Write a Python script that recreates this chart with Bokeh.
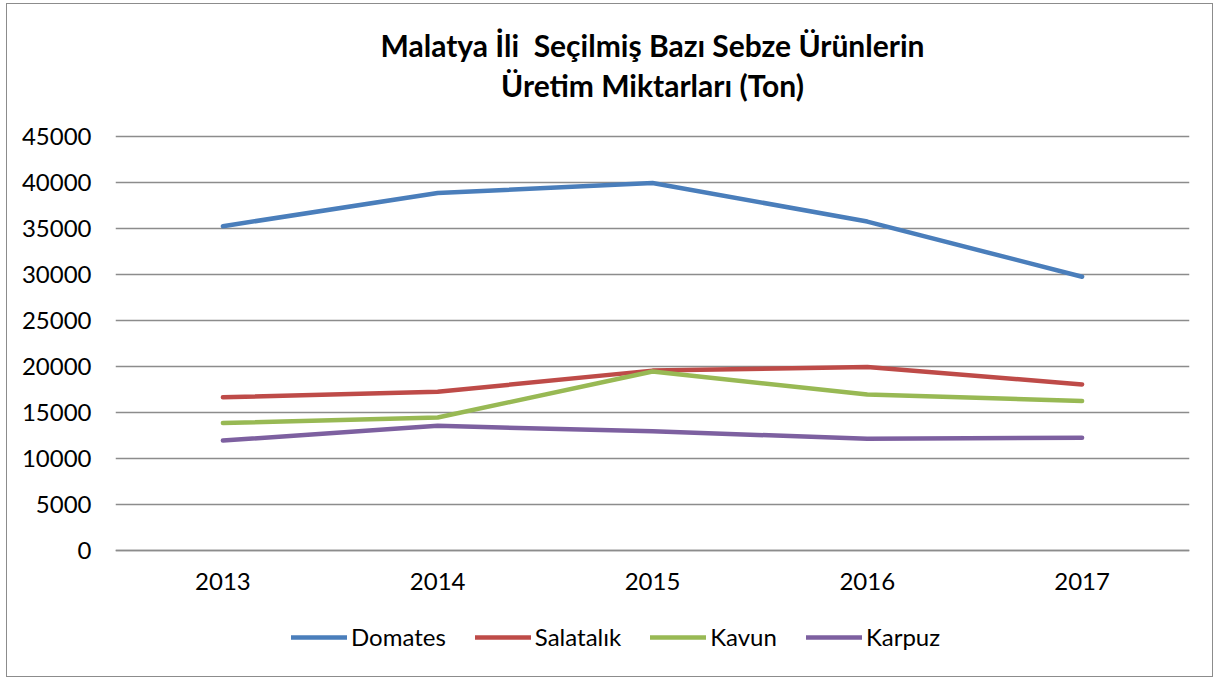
from bokeh.plotting import figure
from bokeh.models import (FactorRange, Range1d, Legend, LegendItem, FixedTicker,
                          Label, CategoricalAxis)
from bokeh.embed import file_html
from bokeh.resources import INLINE

years = ["2013", "2014", "2015", "2016", "2017"]
domates = [35200, 38800, 39900, 35700, 29700]
salatalik = [16600, 17200, 19500, 19900, 18000]
kavun = [13800, 14400, 19400, 16900, 16200]
karpuz = [11900, 13500, 12900, 12100, 12200]
y_ticks = [0, 5000, 10000, 15000, 20000, 25000, 30000, 35000, 40000, 45000]

series_names = ["Domates", "Salatalık", "Kavun", "Karpuz"]
series_values = [domates, salatalik, kavun, karpuz]
colors = ["#4A7EBB", "#BE4B48", "#98B954", "#7D60A0"]

title_line1 = "Malatya İli\u00a0 Seçilmiş Bazı Sebze Ürünlerin"
title_line2 = "Üretim Miktarları (Ton)"

FONT = "Lato"

# the frame also holds the title (above 45000) and the category labels / legend (below 0)
p = figure(
    x_range=FactorRange(*years, range_padding=0),
    y_range=Range1d(-13420, 58750),
    width=1207, height=674,
    output_backend="svg", toolbar_location=None,
    min_border_left=108, min_border_right=25,
    min_border_top=5, min_border_bottom=5,
)
p.styles = {"border": "1.5px solid #8c8c8c", "margin-left": "6px", "margin-top": "3px"}

p.outline_line_color = None
p.background_fill_color = "white"
p.border_fill_color = "white"

p.xgrid.grid_line_color = None
p.ygrid.grid_line_color = "#8c8c8c"
p.ygrid.grid_line_width = 1.5
p.yaxis.ticker = FixedTicker(ticks=y_ticks)
p.ygrid.ticker = FixedTicker(ticks=y_ticks)

p.yaxis.axis_line_color = None
p.yaxis.major_tick_line_color = None
p.yaxis.minor_tick_line_color = None
p.yaxis.major_label_standoff = 18
p.yaxis.major_label_text_font = FONT
p.yaxis.major_label_text_font_size = "24px"
p.yaxis.major_label_text_color = "#000000"

p.xaxis.visible = False
xax = CategoricalAxis(fixed_location=0)
xax.axis_line_color = "#8c8c8c"
xax.axis_line_width = 1.5
xax.major_tick_line_color = None
xax.minor_tick_line_color = None
xax.major_label_standoff = 17
xax.major_label_text_font = FONT
xax.major_label_text_font_size = "24px"
xax.major_label_text_color = "#000000"
p.add_layout(xax, "below")

for txt, yv in ((title_line1, 54900), (title_line2, 50500)):
    p.add_layout(Label(x=2.5, y=yv, text=txt, text_align="center", text_baseline="middle",
                       text_font=FONT, text_font_size="30px", text_font_style="bold",
                       text_color="#000000"))

items = []
for name, vals, c in zip(series_names, series_values, colors):
    r = p.line(years, vals, line_color=c, line_width=4.5,
               line_cap="round", line_join="round")
    items.append(LegendItem(label=name, renderers=[r]))

legend = Legend(items=items, orientation="horizontal", location=(176, 22),
                label_text_font=FONT, label_text_font_size="24px",
                label_text_color="#000000", label_height=20,
                glyph_width=56, glyph_height=20, spacing=29,
                label_standoff=4, border_line_color=None,
                background_fill_alpha=0, margin=0, padding=0)
p.add_layout(legend, "center")

open("out.html", "w").write(file_html(p, INLINE))
